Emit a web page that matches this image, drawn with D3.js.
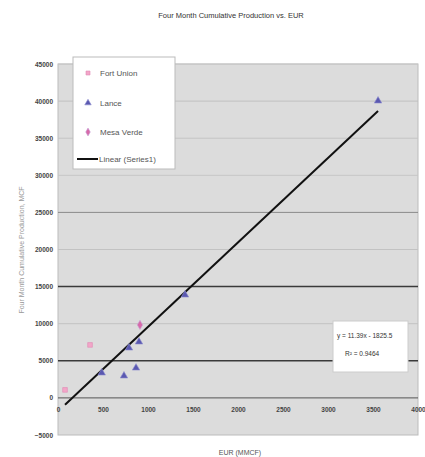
<!DOCTYPE html>
<html>
<head>
<meta charset="utf-8">
<script src="https://cdn.jsdelivr.net/npm/d3@7"></script>
<style>
  html, body { margin: 0; padding: 0; background: #fff; }
  svg { display: block; font-family: "Liberation Sans", Arial, sans-serif; }
</style>
</head>
<body>
<svg id="chart" width="425" height="457"></svg>
<script>
// EUR (MMCF) and four-month cumulative production (MCF) by formation
const fortUnionEUR = [78, 356];
const fortUnionCum = [1080, 7140];
const lanceEUR = [486, 733, 867, 789, 900, 1411, 3556];
const lanceCum = [3370, 2970, 4040, 6740, 7550, 13880, 40030];
const mesaVerdeEUR = [911];
const mesaVerdeCum = [9840];

const xTicks = [0, 500, 1000, 1500, 2000, 2500, 3000, 3500, 4000];
const yTicks = [-5000, 0, 5000, 10000, 15000, 20000, 25000, 30000, 35000, 40000, 45000];
const legendLabels = ["Fort Union", "Lance", "Mesa Verde", "Linear (Series1)"];

const svg = d3.select("#chart");
const x = d3.scaleLinear().domain([0, 4000]).range([58, 418]);
const y = d3.scaleLinear().domain([-5000, 45000]).range([435, 64]);

// least-squares fit over all wells
const allX = fortUnionEUR.concat(lanceEUR, mesaVerdeEUR);
const allY = fortUnionCum.concat(lanceCum, mesaVerdeCum);
const mx = d3.mean(allX), my = d3.mean(allY);
let sxx = 0, sxy = 0, syy = 0;
allX.forEach((v, i) => {
  sxx += (v - mx) ** 2; sxy += (v - mx) * (allY[i] - my); syy += (allY[i] - my) ** 2;
});
const slope = sxy / sxx, intercept = my - slope * mx, r2 = sxy * sxy / (sxx * syy);

// title
svg.append("text").attr("x", 231).attr("y", 18).attr("text-anchor", "middle")
  .attr("font-size", 7.5).attr("fill", "#333").text("Four Month Cumulative Production vs. EUR");

// plot area
svg.append("rect").attr("x", x(0)).attr("y", y(45000))
  .attr("width", x(4000) - x(0)).attr("height", y(-5000) - y(45000))
  .attr("fill", "#dcdcdc").attr("stroke", "#bcbcbc").attr("stroke-width", 1);

// horizontal gridlines
const gridShade = { 45000: "#c8c8c8", 40000: "#c0c0c0", 35000: "#c4c4c4", 30000: "#c6c6c6",
  25000: "#8a8a8a", 20000: "#c2c2c2", 15000: "#3a3a3a", 10000: "#c2c2c2", 5000: "#3a3a3a", 0: "#555" };
svg.append("g").selectAll("line").data(yTicks.filter(d => d > -5000)).join("line")
  .attr("x1", x(0)).attr("x2", x(4000))
  .attr("y1", d => y(d)).attr("y2", d => y(d))
  .attr("stroke", d => gridShade[d] || "#bbb").attr("stroke-width", d => (d === 15000 || d === 5000) ? 1.5 : 1);

// y axis tick labels
const yAxis = d3.axisLeft(y).tickValues(yTicks).tickSize(0).tickPadding(5).tickFormat(d3.format("d"));
svg.append("g").attr("transform", `translate(${x(0)},0)`).call(yAxis)
  .call(g => g.select(".domain").remove())
  .call(g => g.selectAll("text").attr("font-size", 6.5).attr("font-weight", "bold").attr("fill", "#444")
    .attr("font-family", "Liberation Sans, Arial, sans-serif"));

// x axis tick labels, drawn inside the plot below the zero line
const xAxis = d3.axisBottom(x).tickValues(xTicks).tickSize(0).tickPadding(9).tickFormat(d3.format("d"));
svg.append("g").attr("transform", `translate(0,${y(0)})`).call(xAxis)
  .call(g => g.select(".domain").remove())
  .call(g => g.selectAll("text").attr("font-size", 6.5).attr("font-weight", "bold").attr("fill", "#444")
    .attr("font-family", "Liberation Sans, Arial, sans-serif"));

// axis titles
svg.append("text").attr("transform", "translate(24,250) rotate(-90)").attr("text-anchor", "middle")
  .attr("font-size", 7).attr("fill", "#999").text("Four Month Cumulative Production, MCF");
svg.append("text").attr("x", 240).attr("y", 455).attr("text-anchor", "middle")
  .attr("font-size", 7).attr("fill", "#555").text("EUR (MMCF)");

// trend line over the data range
const x0 = d3.min(allX), x1 = d3.max(allX);
svg.append("line").attr("x1", x(x0)).attr("y1", y(slope * x0 + intercept))
  .attr("x2", x(x1)).attr("y2", y(slope * x1 + intercept))
  .attr("stroke", "#111").attr("stroke-width", 2);

// markers
const sq = d3.symbol().type(d3.symbolSquare).size(22);
const tri = d3.symbol().type(d3.symbolTriangle).size(24);
const dia = d3.symbol().type(d3.symbolDiamond).size(24);
svg.append("g").selectAll("path").data(d3.zip(fortUnionEUR, fortUnionCum)).join("path")
  .attr("d", sq).attr("transform", d => `translate(${x(d[0])},${y(d[1])})`)
  .attr("fill", "#f3a6c8").attr("stroke", "#e08ab5").attr("stroke-width", 0.6);
svg.append("g").selectAll("path").data(d3.zip(lanceEUR, lanceCum)).join("path")
  .attr("d", tri).attr("transform", d => `translate(${x(d[0])},${y(d[1])})`)
  .attr("fill", "#5a58b0").attr("stroke", "#8f8ed0").attr("stroke-width", 0.6);
svg.append("g").selectAll("path").data(d3.zip(mesaVerdeEUR, mesaVerdeCum)).join("path")
  .attr("d", dia).attr("transform", d => `translate(${x(d[0])},${y(d[1])})`)
  .attr("fill", "#d76aa8").attr("stroke", "#c6a0d8").attr("stroke-width", 0.6);

// legend
const lg = svg.append("g");
lg.append("rect").attr("x", 73).attr("y", 57).attr("width", 102).attr("height", 112)
  .attr("fill", "#fff").attr("stroke", "#bbb");
const rows = [73, 103, 132, 159];
const lsq = d3.symbol().type(d3.symbolSquare).size(16);
const ltri = d3.symbol().type(d3.symbolTriangle).size(18);
const ldia = d3.symbol().type(d3.symbolDiamond).size(18);
lg.append("path").attr("d", lsq).attr("transform", `translate(88,${rows[0]})`).attr("fill", "#f3a6c8").attr("stroke", "#e08ab5").attr("stroke-width", 0.6);
lg.append("path").attr("d", ltri).attr("transform", `translate(88,${rows[1]})`).attr("fill", "#5a58b0").attr("stroke", "#8f8ed0").attr("stroke-width", 0.6);
lg.append("path").attr("d", ldia).attr("transform", `translate(88,${rows[2]})`).attr("fill", "#d76aa8").attr("stroke", "#c6a0d8").attr("stroke-width", 0.6);
lg.append("line").attr("x1", 77).attr("x2", 98).attr("y1", rows[3]).attr("y2", rows[3]).attr("stroke", "#111").attr("stroke-width", 2);
lg.selectAll("text").data(legendLabels).join("text")
  .attr("x", (d, i) => i === 3 ? 99 : 100).attr("y", (d, i) => rows[i] + 3)
  .attr("font-size", 8).attr("fill", "#555").text(d => d);

// equation box
const eq = svg.append("g");
eq.append("rect").attr("x", 333).attr("y", 321).attr("width", 75).attr("height", 51)
  .attr("fill", "#fff").attr("stroke", "#ccc");
eq.append("text").attr("x", 337).attr("y", 338).attr("font-size", 6.5).attr("fill", "#333")
  .text(`y = ${d3.format(".5")(slope)}x - ${d3.format(".1f")(-intercept)}`);
eq.append("text").attr("x", 345).attr("y", 356).attr("font-size", 6.5).attr("fill", "#333")
  .text(`R² = ${d3.format(".4f")(r2)}`);
</script>
</body>
</html>
